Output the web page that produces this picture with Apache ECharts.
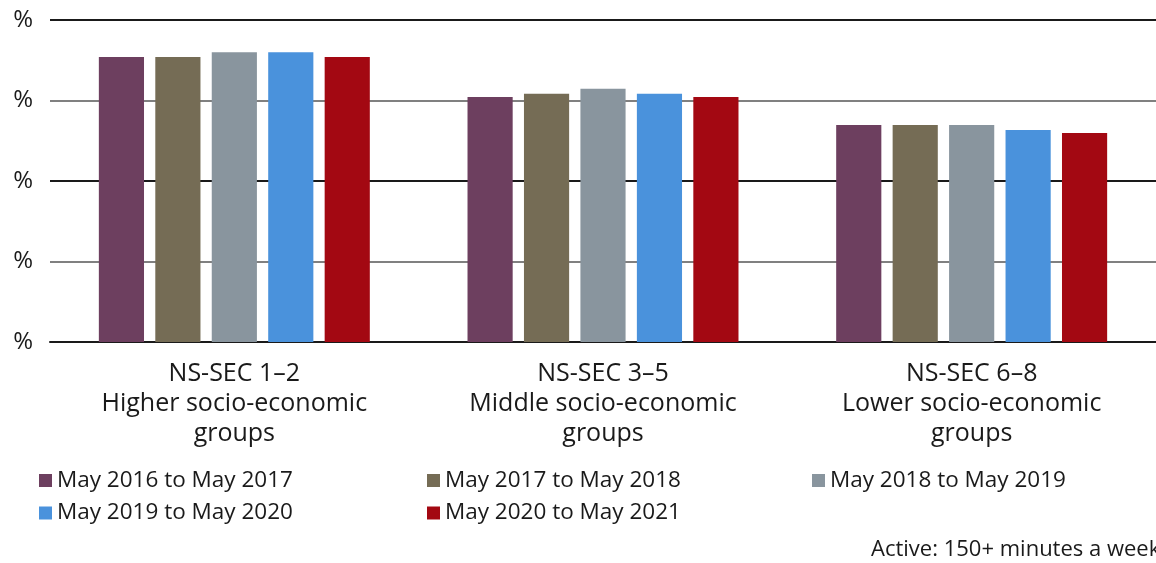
<!DOCTYPE html>
<html>
<head>
<meta charset="utf-8">
<script src="https://cdn.jsdelivr.net/npm/echarts@6/dist/echarts.min.js"></script>
<style>
html,body{margin:0;padding:0;background:#fff;}
#chart{width:1156px;height:563px;}
</style>
</head>
<body>
<div id="chart"></div>
<script>
const categories = ['NS-SEC 1–2\nHigher socio-economic\ngroups', 'NS-SEC 3–5\nMiddle socio-economic\ngroups', 'NS-SEC 6–8\nLower socio-economic\ngroups'];
const seriesNames = ['May 2016 to May 2017', 'May 2017 to May 2018', 'May 2018 to May 2019', 'May 2019 to May 2020', 'May 2020 to May 2021'];
const s2016 = [70.8, 60.9, 53.9];
const s2017 = [70.8, 61.7, 53.9];
const s2018 = [72.0, 62.9, 53.9];
const s2019 = [72.0, 61.7, 52.7];
const s2020 = [70.8, 60.9, 51.9];
const yTicks = [0, 20, 40, 60, 80];
const footnote = 'Active: 150+ minutes a week';

const colors = ['#6d3f5f', '#756c55', '#89959e', '#4a92dc', '#a30812'];
const values = [s2016, s2017, s2018, s2019, s2020];
const FONT = '"Open Sans", "Noto Sans", sans-serif';

const chart = echarts.init(document.getElementById('chart'), null, {renderer: 'canvas'});
const legendText = {fontFamily: FONT, fontSize: 22.5, color: '#1a1a1a'};
const legendBase = {top: 464, orient: 'vertical', itemWidth: 13, itemHeight: 13, itemGap: 9.5, textStyle: legendText, icon: 'rect'};
chart.setOption({
  animation: false,
  color: colors,
  grid: {left: 50, right: 0, top: 20, height: 322},
  xAxis: {
    type: 'category',
    data: categories,
    axisLine: {lineStyle: {color: '#1a1a1a', width: 2}},
    axisTick: {show: false},
    axisLabel: {fontFamily: FONT, fontSize: 25, lineHeight: 30, color: '#1a1a1a', margin: 16.5, interval: 0}
  },
  yAxis: {
    type: 'value',
    min: yTicks[0],
    max: yTicks[yTicks.length - 1],
    interval: yTicks[1] - yTicks[0],
    axisLine: {show: false},
    axisTick: {show: false},
    axisLabel: {formatter: () => '%', fontFamily: FONT, fontSize: 24, color: '#1a1a1a', margin: 17},
    splitLine: {lineStyle: {color: ['#1a1a1a', '#808080'], width: 2}}
  },
  legend: [
    Object.assign({left: 34, data: [seriesNames[0], seriesNames[3]]}, legendBase),
    Object.assign({left: 422, data: [seriesNames[1], seriesNames[4]]}, legendBase),
    Object.assign({left: 807, data: [seriesNames[2]]}, legendBase)
  ],
  graphic: [{
    type: 'text', left: 871, top: 539,
    style: {text: footnote, font: '22px ' + FONT, fill: '#1a1a1a'}
  }],
  series: seriesNames.map((name, i) => ({
    name: name,
    type: 'bar',
    data: values[i],
    barGap: '25%',
    barCategoryGap: '26.5%',
    itemStyle: {color: colors[i]}
  }))
});
</script>
</body>
</html>
